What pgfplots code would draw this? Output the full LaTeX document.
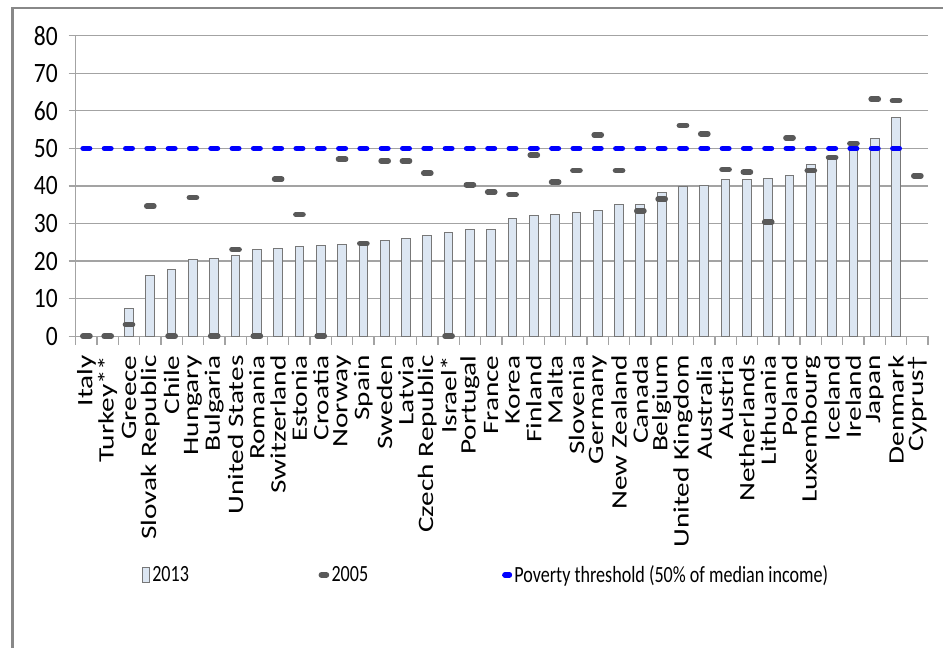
\documentclass[border=0pt]{standalone}
\usepackage{fontspec}
\usepackage{pgfplots}
\usepackage{pgfplotstable}
\pgfplotsset{compat=1.18}
\setmainfont{Carlito}
% the reference is squeezed sideways, so text is stretched to match
\newfontfamily\narrowfont[FakeStretch=0.78]{Carlito}
\newfontfamily\ticknarrow[FakeStretch=0.84]{Carlito}
\newfontfamily\tallfont[FakeStretch=1.33]{Carlito}

\definecolor{barfill}{HTML}{DCE6F2}
\definecolor{bardraw}{HTML}{777777}
\definecolor{markgray}{HTML}{595959}
\definecolor{gridgray}{HTML}{A3A3A3}
\definecolor{framegray}{HTML}{888888}

% 2013 values (x = category index)
\pgfplotstableread{
idx v
2 7.5
3 16.2
4 17.7
5 20.5
6 20.8
7 21.6
8 23.1
9 23.4
10 23.8
11 24.1
12 24.5
13 25.0
14 25.4
15 26.1
16 26.8
17 27.6
18 28.3
19 28.3
20 31.3
21 32.1
22 32.5
23 32.9
24 33.6
25 35.2
26 35.2
27 38.2
28 39.8
29 40.1
30 41.6
31 41.6
32 42.0
33 42.7
34 45.8
35 47.5
36 51.1
37 52.7
38 58.3
}\dataA

% 2005 values
\pgfplotstableread{
idx v
0 0
1 0
2 3.1
3 34.6
4 0
5 36.9
6 0
7 23.1
8 0
9 41.8
10 32.4
11 0
12 47.1
13 24.7
14 46.7
15 46.7
16 43.4
17 0
18 40.3
19 38.4
20 37.7
21 48.2
22 41.0
23 44.1
24 53.6
25 44.1
26 33.4
27 36.5
28 56.1
29 53.9
30 44.4
31 43.7
32 30.4
33 52.8
34 44.1
35 47.6
36 51.3
37 63.1
38 62.7
39 42.7
}\dataB

\begin{document}
\begin{tikzpicture}
\path[use as bounding box] (0,0) rectangle (707.25pt,486pt);
\draw[framegray, line width=1.6pt] (9.4pt,0pt) -- (9.4pt,479.8pt) -- (707.25pt,479.8pt);
\begin{axis}[
    at={(56.8pt,233.8pt)}, anchor=south west,
    scale only axis, width=639.2pt, height=225.45pt,
    xmin=-0.5, xmax=39.5, ymin=0, ymax=80,
    axis x line*=bottom, axis y line*=left,
    axis line style={draw=gridgray, line width=1pt},
    ymajorgrids, grid style={draw=gridgray, line width=1pt},
    tick align=outside,
    ytick={0,10,...,80},
    yticklabels={0,10,20,30,40,50,60,70,80},
    major tick length=5.25pt,
    ytick style={draw=gridgray, line width=1pt},
    xtick={0,...,39},
    major x tick style={draw=none},
    minor xtick={-0.5,0.5,...,39.5},
    minor tick length=6.4pt,
    minor x tick style={draw=gridgray, line width=1pt},
    xticklabels={Italy,Turkey**,Greece,Slovak Republic,Chile,Hungary,Bulgaria,United States,Romania,Switzerland,Estonia,Croatia,Norway,Spain,Sweden,Latvia,Czech Republic,Israel*,Portugal,France,Korea,Finland,Malta,Slovenia,Germany,New Zealand,Canada,Belgium,United Kingdom,Australia,Austria,Netherlands,Lithuania,Poland,Luxembourg,Iceland,Ireland,Japan,Denmark,Cyprus†},
    xticklabel style={font=\tallfont\fontsize{16.5}{18}\selectfont, rotate=90, anchor=east, inner sep=0pt},
    yticklabel style={font=\ticknarrow\fontsize{21}{22}\selectfont, anchor=east, inner sep=0pt},
    xticklabel shift=9pt,
    yticklabel shift=8pt,
    legend style={at={(0.0778,-0.794)}, anchor=west, draw=none, fill=none,
        inner sep=0pt, column sep=1.5pt, nodes={inner sep=0pt},
        font=\narrowfont\fontsize{17.4}{20}\selectfont},
    legend columns=3, legend cell align=left,
]
\addplot[ybar, bar shift=0pt, bar width=0.41, fill=barfill, draw=bardraw, line width=0.75pt,
    legend image code/.code={\draw[fill=barfill,draw=bardraw,line width=0.75pt] (0pt,-5.5pt) rectangle (5.25pt,5.5pt);}]
    table[x=idx, y=v] {\dataA};
\addlegendentry{\makebox[123pt][l]{2013}}
\addplot[only marks, mark=-, mark size=2.66pt, color=markgray,
    mark options={line width=4.2pt, line cap=round},
    legend image code/.code={\path (0pt,0pt) -- (8pt,0pt);\draw[markgray,line width=4.2pt,line cap=round] (2.1pt,0pt) -- (5.9pt,0pt);}]
    table[x=idx, y=v] {\dataB};
\addlegendentry{\makebox[126.3pt][l]{2005}}
\addplot[only marks, mark=-, mark size=2.5pt, color=blue,
    mark options={line width=4pt, line cap=round},
    legend image code/.code={\path (0pt,0pt) -- (7.5pt,0pt);\draw[blue,line width=4pt,line cap=round] (2pt,0pt) -- (5.5pt,0pt);}]
    coordinates {(0,50)(1,50)(2,50)(3,50)(4,50)(5,50)(6,50)(7,50)(8,50)(9,50)(10,50)(11,50)(12,50)(13,50)(14,50)(15,50)(16,50)(17,50)(18,50)(19,50)(20,50)(21,50)(22,50)(23,50)(24,50)(25,50)(26,50)(27,50)(28,50)(29,50)(30,50)(31,50)(32,50)(33,50)(34,50)(35,50)(36,50)(37,50)(38,50)};
\addlegendentry{Poverty threshold (50\% of median income)}
\end{axis}
\end{tikzpicture}
\end{document}
